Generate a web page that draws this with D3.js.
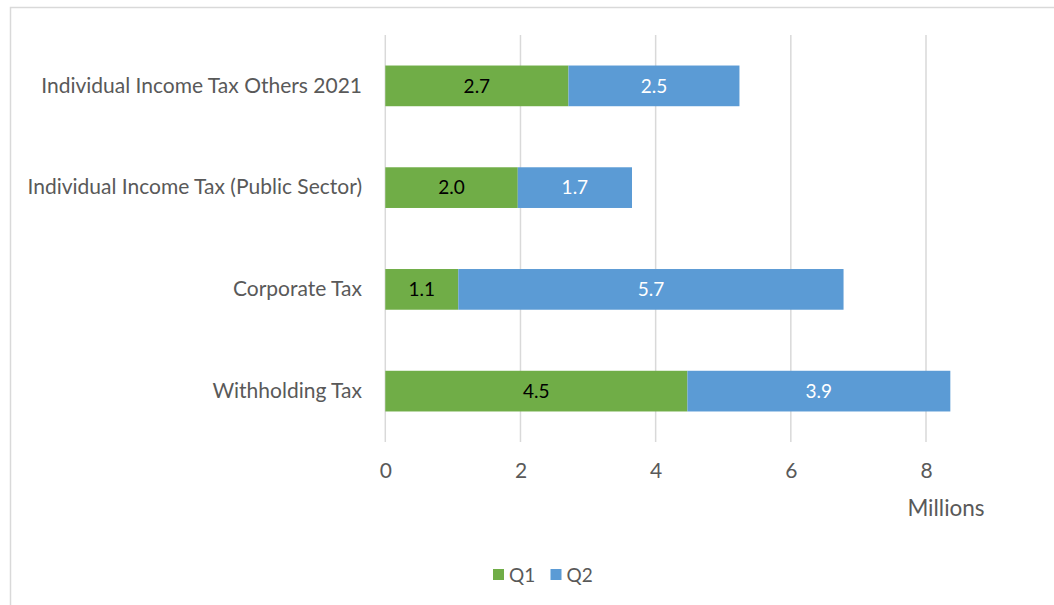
<!DOCTYPE html>
<html>
<head>
<meta charset="utf-8">
<script src="https://cdn.jsdelivr.net/npm/d3@7"></script>
<style>
  html, body { margin: 0; padding: 0; background: #fff; }
  svg { display: block; }
  text { font-family: Lato, "Open Sans", sans-serif; }
</style>
</head>
<body>
<svg id="chart" width="1054" height="605"></svg>
<script>
// Tax collections by quarter, in millions
const categories = [
  "Individual Income Tax Others 2021",
  "Individual Income Tax (Public Sector)",
  "Corporate Tax",
  "Withholding Tax"
];
const q1Values = [2.71, 1.96, 1.08, 4.47];
const q2Values = [2.53, 1.69, 5.70, 3.89];
const seriesNames = ["Q1", "Q2"];
const xTicks = [0, 2, 4, 6, 8];
const axisUnit = "Millions";

const colors = { Q1: "#70ad47", Q2: "#5b9bd5" };
const labelColors = { Q1: "#000000", Q2: "#ffffff" };
const textColor = "#595959";

const svg = d3.select("#chart");
const W = 1054, H = 605;

// outer chart frame
svg.append("rect")
  .attr("x", 10.5).attr("y", 7.5)
  .attr("width", W + 20).attr("height", H + 20)
  .attr("fill", "#fff").attr("stroke", "#d9d9d9").attr("stroke-width", 1.5);

const plot = { left: 385.3, right: 926, top: 35, bottom: 442 };

const x = d3.scaleLinear().domain([0, 8]).range([plot.left, plot.right]);
const y = d3.scaleBand().domain(categories).range([plot.top, plot.bottom]).paddingInner(0.6).paddingOuter(0.3);

// vertical gridlines
svg.append("g").selectAll("line").data(xTicks).join("line")
  .attr("x1", d => x(d)).attr("x2", d => x(d))
  .attr("y1", plot.top).attr("y2", plot.bottom)
  .attr("stroke", "#d9d9d9").attr("stroke-width", 1.5);

// x tick labels
const xAxis = d3.axisBottom(x).tickValues(xTicks).tickSize(0).tickPadding(0).tickFormat(d3.format("d"));
const gx = svg.append("g").attr("transform", `translate(0,${plot.bottom})`).call(xAxis);
gx.select(".domain").remove();
gx.selectAll("text")
  .attr("y", 29).attr("dy", "0.35em")
  .attr("fill", textColor).style("font-size", "21px")
  .style("font-family", "Lato, sans-serif");

svg.append("text")
  .attr("x", 946).attr("y", 508).attr("dy", "0.35em")
  .attr("text-anchor", "middle").attr("fill", textColor)
  .style("font-size", "22.5px").text(axisUnit);

// category labels
const yAxis = d3.axisLeft(y).tickSize(0).tickPadding(0);
const gy = svg.append("g").attr("transform", `translate(${362},0)`).call(yAxis);
gy.select(".domain").remove();
gy.selectAll("text")
  .attr("fill", textColor).style("font-size", "21px")
  .style("font-family", "Lato, sans-serif");

// stacked bars
const rows = categories.map((c, i) => ({ category: c, Q1: q1Values[i], Q2: q2Values[i] }));
const stack = d3.stack().keys(seriesNames)(rows);

const layers = svg.append("g").selectAll("g").data(stack).join("g")
  .attr("fill", d => colors[d.key]);

layers.selectAll("rect").data(d => d).join("rect")
  .attr("x", d => x(d[0]))
  .attr("y", d => y(d.data.category))
  .attr("width", d => x(d[1]) - x(d[0]))
  .attr("height", y.bandwidth());

// value labels centered in each segment
svg.append("g").selectAll("g").data(stack).join("g")
  .each(function(layer) {
    d3.select(this).selectAll("text").data(layer).join("text")
      .attr("x", d => (x(d[0]) + x(d[1])) / 2)
      .attr("y", d => y(d.data.category) + y.bandwidth() / 2)
      .attr("dy", "0.35em")
      .attr("text-anchor", "middle")
      .attr("fill", labelColors[layer.key])
      .style("font-size", "19px")
      .text(d => (d[1] - d[0]).toFixed(1));
  });

// legend
const legend = svg.append("g").attr("transform", "translate(493,575)");
const legendItems = legend.selectAll("g").data(seriesNames).join("g")
  .attr("transform", (d, i) => `translate(${i * 57.5},0)`);
legendItems.append("rect")
  .attr("x", 0).attr("y", -6).attr("width", 11).attr("height", 11)
  .attr("fill", d => colors[d]);
legendItems.append("text")
  .attr("x", 16).attr("y", 0).attr("dy", "0.35em")
  .attr("fill", textColor).style("font-size", "19px")
  .text(d => d);
</script>
</body>
</html>
